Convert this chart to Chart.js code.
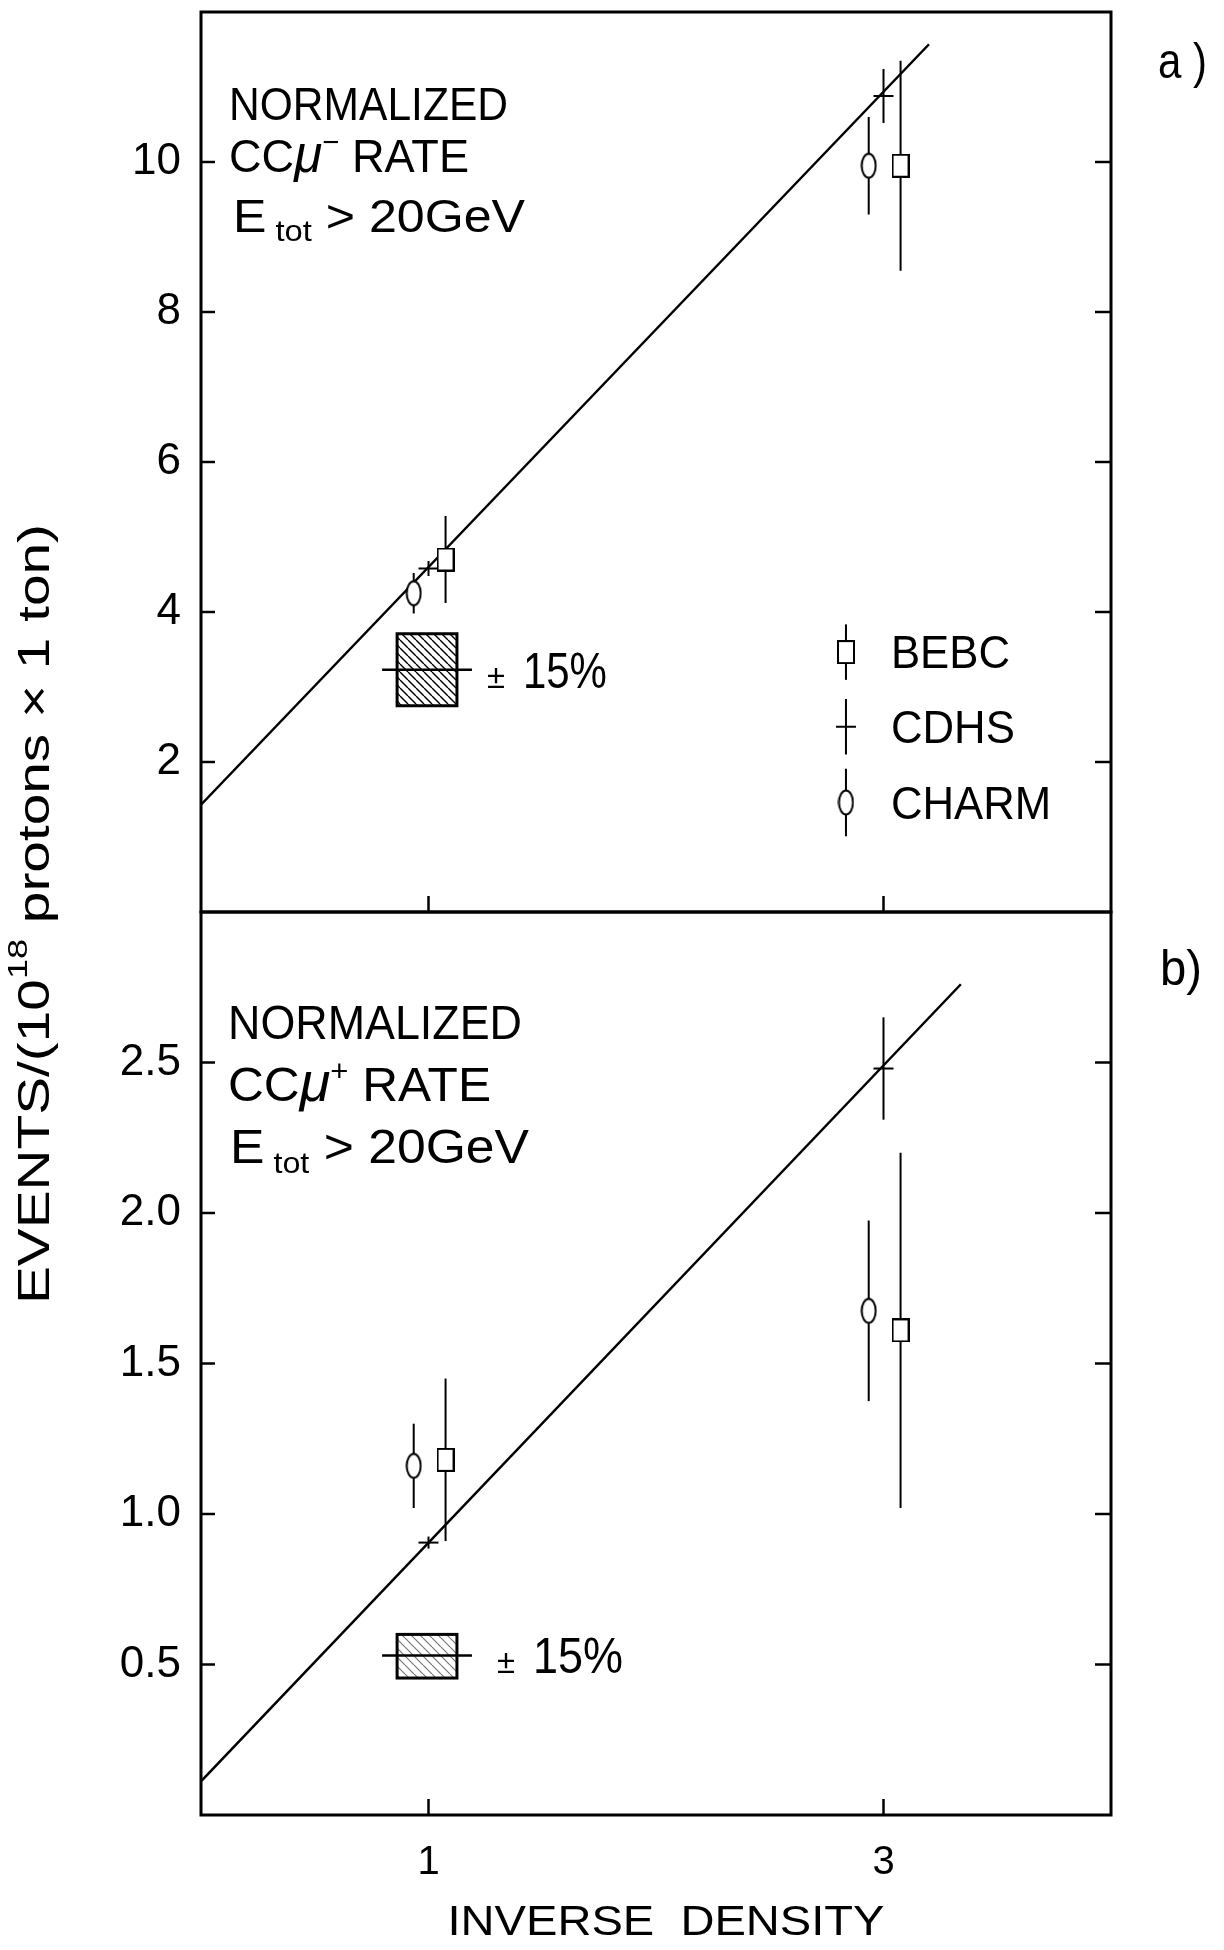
<!DOCTYPE html>
<html lang="en">
<head>
<meta charset="UTF-8">
<title>Normalized CC rates vs inverse density</title>
<script src="https://cdn.jsdelivr.net/npm/chart.js"></script>
<style>
  body { margin: 0; background: #fff; }
  #wrap { position: relative; width: 1224px; height: 1950px; }
  #wrap canvas { position: absolute; left: 0; top: 0; }
</style>
</head>
<body>
<div id="wrap">
  <canvas id="chartA" width="1224" height="1950"></canvas>
  <canvas id="chartB" width="1224" height="1950"></canvas>
</div>
<script>
const FONT = "'Liberation Sans', Arial, sans-serif";

// ---- axes ----
const xTickValues = [1, 3];
const yTickValuesA = [2, 4, 6, 8, 10];
const yTickValuesB = [0.5, 1.0, 1.5, 2.0, 2.5];

// inverse density of each experiment (points drawn slightly apart)
const bebcX = [1.075, 3.075];
const cdhsX = [1.0, 3.0];
const charmX = [0.935, 2.935];

// a) CC mu- rate
const bebcA = [4.70, 9.95];
const bebcErrA = [0.58, 1.40];
const cdhsA = [4.58, 10.88];
const cdhsErrA = [0.10, 0.36];
const charmA = [4.25, 9.95];
const charmErrA = [0.27, 0.65];
const fitXA = [0, 3.2];
const fitYA = [1.43, 11.57];

// b) CC mu+ rate
const bebcB = [1.18, 1.61];
const bebcErrB = [0.27, 0.59];
const cdhsB = [0.905, 2.48];
const cdhsErrB = [0.02, 0.17];
const charmB = [1.16, 1.675];
const charmErrB = [0.14, 0.30];
const fitXB = [0, 3.34];
const fitYB = [0.112, 2.76];

// +-15% normalisation boxes: [low, centre, high]
const sysX = [0.862, 1.0, 1.125];
const sysA = [2.75, 3.23, 3.71];
const sysB = [0.455, 0.53, 0.60];

// key in panel a
const legendNames = ['BEBC', 'CDHS', 'CHARM'];
const legendX = [2.835];
const legendY = [3.465, 2.47, 1.46];
const legendErr = [0.37, 0.37, 0.45];

function pts(xs, ys) {
  return xs.map((x, i) => ({ x: x, y: ys[i] }));
}

// hollow box and hollow oval markers like the original
function makeMarker(w, h, draw) {
  const c = document.createElement('canvas');
  c.width = w; c.height = h;
  const g = c.getContext('2d');
  g.fillStyle = '#fff'; g.strokeStyle = '#000'; g.lineWidth = 2;
  draw(g, w, h);
  return c;
}
const boxMarker = makeMarker(18, 24, (g, w, h) => {
  g.fillRect(1, 1, w - 2, h - 2); g.strokeRect(1, 1, w - 2, h - 2);
});
const ovalMarker = makeMarker(17, 27, (g, w, h) => {
  g.beginPath(); g.ellipse(w / 2, h / 2, w / 2 - 1.5, h / 2 - 1.5, 0, 0, Math.PI * 2);
  g.fill(); g.stroke();
});

function hatch(step, color, width) {
  const c = document.createElement('canvas');
  c.width = step; c.height = step;
  const g = c.getContext('2d');
  g.strokeStyle = color; g.lineWidth = width;
  [-step, 0, step].forEach(s => {
    g.beginPath(); g.moveTo(s, 0); g.lineTo(s + step, step); g.stroke();
  });
  return c;
}

function series(label, xs, ys, errs, kind) {
  const ds = {
    label: label, data: pts(xs, ys), errors: errs, order: 1,
    pointBorderColor: '#000', pointBackgroundColor: '#fff', pointBorderWidth: 2
  };
  if (kind === 'BEBC') ds.pointStyle = boxMarker;
  else if (kind === 'CHARM') ds.pointStyle = ovalMarker;
  else { ds.pointStyle = 'line'; ds.pointRadius = 10; }
  return ds;
}

function fitLine(xs, ys) {
  return { label: 'fit', data: pts(xs, ys), showLine: true, borderColor: '#000',
           borderWidth: 2.5, pointRadius: 0, order: 2 };
}

// text in runs: [text, size, dy, style]; squeezed horizontally to a given width
function fitRuns(ctx, x, y, parts, width, centred) {
  let total = 0;
  parts.forEach(p => { ctx.font = (p[3] || '') + ' ' + p[1] + 'px ' + FONT; total += ctx.measureText(p[0]).width; });
  const sx = width / total;
  let cx = centred ? x - width / 2 : x;
  parts.forEach(p => {
    ctx.font = (p[3] || '') + ' ' + p[1] + 'px ' + FONT;
    const w = ctx.measureText(p[0]).width;
    ctx.save();
    ctx.translate(cx, y + (p[2] || 0));
    ctx.scale(sx, 1);
    ctx.fillText(p[0], 0, 0);
    ctx.restore();
    cx += w * sx;
  });
}

function line(ctx, x1, y1, x2, y2) {
  ctx.beginPath(); ctx.moveTo(x1, y1); ctx.lineTo(x2, y2); ctx.stroke();
}

const errorBars = {
  id: 'errorBars',
  beforeDatasetsDraw(chart) {
    const { ctx, scales: { x, y } } = chart;
    ctx.save();
    ctx.strokeStyle = '#000'; ctx.lineWidth = 2;
    chart.data.datasets.forEach(ds => {
      if (!ds.errors) return;
      ds.data.forEach((p, i) => {
        const px = x.getPixelForValue(p.x);
        line(ctx, px, y.getPixelForValue(p.y - ds.errors[i]), px, y.getPixelForValue(p.y + ds.errors[i]));
      });
    });
    ctx.restore();
  }
};

const sysBox = {
  id: 'sysBox',
  beforeDatasetsDraw(chart, args, opts) {
    const { ctx, scales: { x, y } } = chart;
    const left = x.getPixelForValue(sysX[0]), right = x.getPixelForValue(sysX[2]);
    const top = y.getPixelForValue(opts.ys[2]), bottom = y.getPixelForValue(opts.ys[0]);
    const mid = y.getPixelForValue(opts.ys[1]);
    ctx.save();
    ctx.fillStyle = ctx.createPattern(opts.light ? hatch(9, '#777', 1.2) : hatch(8, '#000', 1.4), 'repeat');
    ctx.fillRect(left, top, right - left, bottom - top);
    ctx.strokeStyle = '#000'; ctx.lineWidth = 3;
    ctx.strokeRect(left, top, right - left, bottom - top);
    ctx.lineWidth = 2.5;
    line(ctx, left - 15, mid, right + 15, mid);
    ctx.fillStyle = '#000';
    ctx.textBaseline = 'alphabetic';
    fitRuns(ctx, right + opts.gap, mid + 18, [['±', 34]], 18);
    fitRuns(ctx, right + opts.gap + 36, mid + 18, [['15%', 50]], opts.w);
    ctx.restore();
  }
};

const frame = {
  id: 'frame',
  afterDraw(chart) {
    const { ctx, chartArea: a, scales: { x, y } } = chart;
    ctx.save();
    ctx.strokeStyle = '#000'; ctx.lineWidth = 3;
    ctx.strokeRect(a.left, a.top, a.right - a.left, a.bottom - a.top);
    ctx.lineWidth = 2.5;
    y.ticks.forEach(t => {
      const py = y.getPixelForValue(t.value);
      line(ctx, a.left, py, a.left + 14, py);
      line(ctx, a.right - 16, py, a.right, py);
    });
    xTickValues.forEach(v => {
      const px = x.getPixelForValue(v);
      line(ctx, px, a.bottom, px, a.bottom - 16);
    });
    ctx.restore();
  }
};

const notesA = {
  id: 'notesA',
  afterDraw(chart) {
    const { ctx, scales: { x, y } } = chart;
    ctx.save();
    ctx.fillStyle = '#000'; ctx.textBaseline = 'alphabetic';
    fitRuns(ctx, 229, 120, [['NORMALIZED', 46]], 279);
    fitRuns(ctx, 229, 172, [['CC', 46], ['μ', 52, 0, 'italic'], ['−', 30, -20], [' RATE', 46]], 240);
    fitRuns(ctx, 233, 232, [['E', 46], [' tot', 30, 9], [' > 20GeV', 46]], 292);
    fitRuns(ctx, 1158, 78, [['a )', 50]], 49);
    legendNames.forEach((n, i) => {
      ctx.font = '46px ' + FONT;
      const w = ctx.measureText(n).width * 0.95;
      fitRuns(ctx, x.getPixelForValue(legendX[0]) + 45, y.getPixelForValue(legendY[i]) + 16, [[n, 46]], w);
    });
    ctx.restore();
  }
};

const notesB = {
  id: 'notesB',
  afterDraw(chart) {
    const { ctx } = chart;
    ctx.save();
    ctx.fillStyle = '#000'; ctx.textBaseline = 'alphabetic';
    fitRuns(ctx, 228, 1039, [['NORMALIZED', 48]], 294);
    fitRuns(ctx, 228, 1101, [['CC', 48], ['μ', 54, 0, 'italic'], ['+', 30, -20], [' RATE', 48]], 263);
    fitRuns(ctx, 230, 1163, [['E', 48], [' tot', 30, 10], [' > 20GeV', 48]], 299);
    fitRuns(ctx, 1160, 985, [['b)', 50]], 42);
    // axis titles
    fitRuns(ctx, 666, 1935, [['INVERSE  DENSITY', 42]], 437, true);
    ctx.save();
    ctx.translate(49, 914);
    ctx.rotate(-Math.PI / 2);
    fitRuns(ctx, 0, 0, [['EVENTS/(10', 44], ['18', 28, -22], [' protons × 1 ton)', 44]], 780, true);
    ctx.restore();
    ctx.restore();
  }
};

// labels of the axes must not push the plot box around
function noPad(s) {
  s.paddingTop = 0; s.paddingBottom = 0; s.paddingLeft = 0; s.paddingRight = 0;
}

function yAxis(min, max, values, fmt) {
  return {
    type: 'linear', min: min, max: max,
    afterBuildTicks: s => { s.ticks = values.map(v => ({ value: v })); },
    ticks: { color: '#000', font: { family: FONT, size: 44 }, padding: 20, callback: fmt },
    grid: { display: false, drawTicks: false },
    border: { display: false },
    afterFit: s => { s.width = 201; noPad(s); }
  };
}

function xAxis(showLabels, height) {
  return {
    type: 'linear', min: 0, max: 4,
    afterBuildTicks: s => { s.ticks = xTickValues.map(v => ({ value: v })); },
    ticks: { display: showLabels, color: '#000', font: { family: FONT, size: 40 }, padding: 24,
             callback: v => String(v) },
    grid: { display: false, drawTicks: false },
    border: { display: false },
    afterFit: s => { s.height = height; noPad(s); }
  };
}

const common = {
  responsive: false,
  animation: false,
  devicePixelRatio: 1,
  plugins: { legend: { display: false }, tooltip: { enabled: false } }
};

new Chart(document.getElementById('chartA'), {
  type: 'scatter',
  data: {
    datasets: [
      fitLine(fitXA, fitYA),
      series('BEBC', bebcX, bebcA, bebcErrA, 'BEBC'),
      series('CDHS', cdhsX, cdhsA, cdhsErrA, 'CDHS'),
      series('CHARM', charmX, charmA, charmErrA, 'CHARM')
    ].concat(legendNames.map((n, i) => series(n + ' key', legendX, [legendY[i]], [legendErr[i]], n)))
  },
  options: Object.assign({}, common, {
    layout: { padding: { left: 0, top: 10, right: 113, bottom: 1020 } },
    plugins: Object.assign({}, common.plugins, { sysBox: { ys: sysA, gap: 30, w: 84 } }),
    scales: {
      x: xAxis(false, 18),
      y: yAxis(0, 12, yTickValuesA, v => String(v))
    }
  }),
  plugins: [errorBars, sysBox, frame, notesA]
});

new Chart(document.getElementById('chartB'), {
  type: 'scatter',
  data: {
    datasets: [
      fitLine(fitXB, fitYB),
      series('BEBC', bebcX, bebcB, bebcErrB, 'BEBC'),
      series('CDHS', cdhsX, cdhsB, cdhsErrB, 'CDHS'),
      series('CHARM', charmX, charmB, charmErrB, 'CHARM')
    ]
  },
  options: Object.assign({}, common, {
    layout: { padding: { left: 0, top: 912, right: 113, bottom: 0 } },
    plugins: Object.assign({}, common.plugins, { sysBox: { ys: sysB, gap: 40, w: 90, light: true } }),
    scales: {
      x: xAxis(true, 135),
      y: yAxis(0, 3, yTickValuesB, v => v.toFixed(1))
    }
  }),
  plugins: [errorBars, sysBox, frame, notesB]
});
</script>
</body>
</html>
